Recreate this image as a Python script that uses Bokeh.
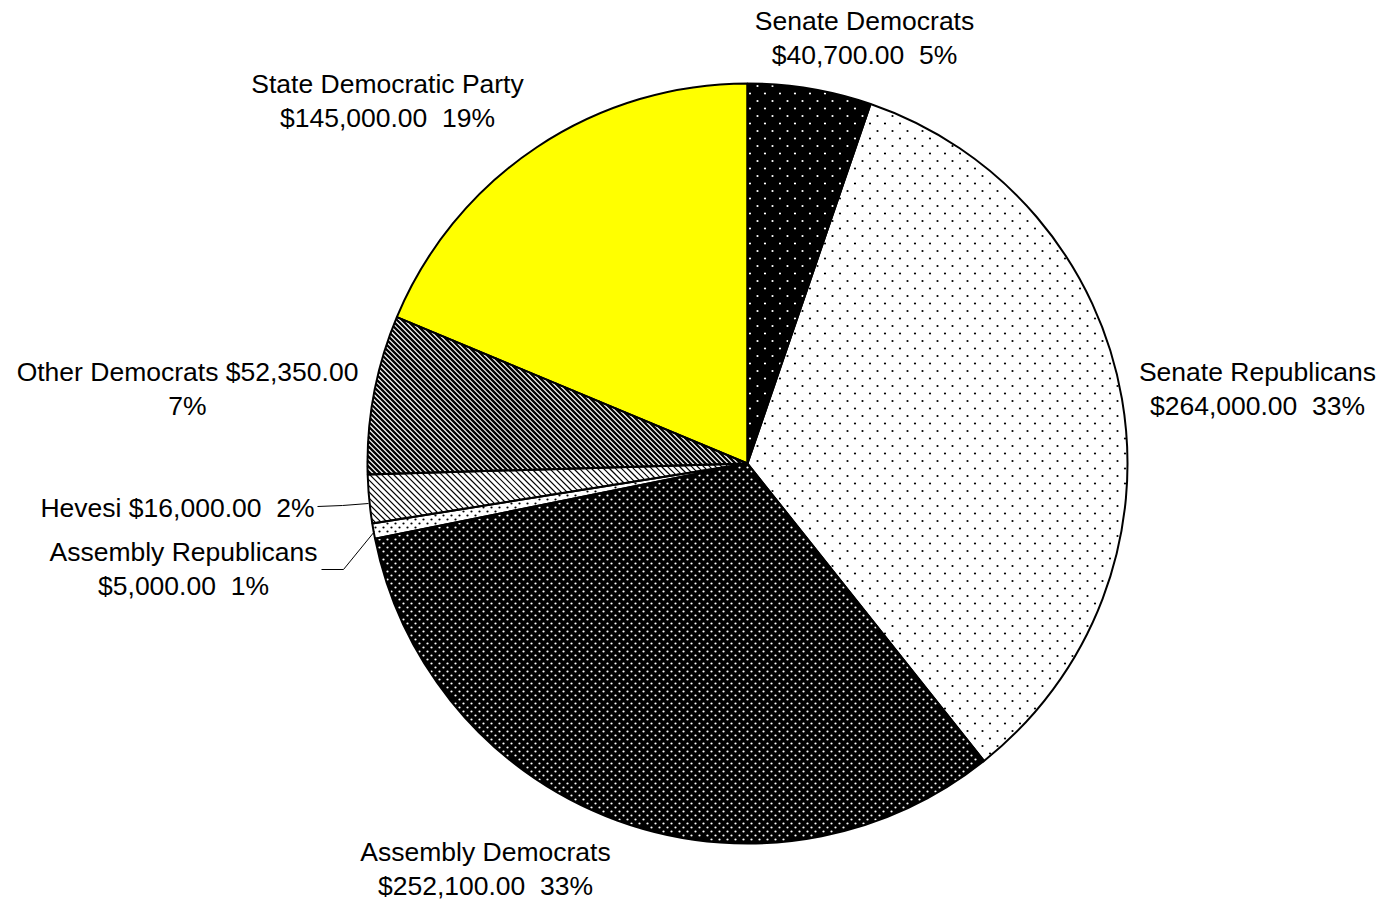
import math
from bokeh.plotting import figure
from bokeh.models import Range1d, ColumnDataSource
from bokeh.core.properties import value
from bokeh.embed import file_html
from bokeh.resources import INLINE

# ---- data ----
categories = ["Senate Democrats", "Senate Republicans", "Assembly Democrats",
              "Assembly Republicans", "Hevesi", "Other Democrats",
              "State Democratic Party"]
amounts = [40700.00, 264000.00, 252100.00, 5000.00, 16000.00, 52350.00, 145000.00]
pct_labels = ["5%", "33%", "33%", "1%", "2%", "7%", "19%"]

# ---- styles ----
fills = ["#000000", "#ffffff", "#000000", "#ffffff", "#ffffff", "#ffffff", "#ffff00"]
tex_kind = ["dots", "dots", "dots", "dots", "lines", "lines", None]
tex_color = ["#ffffff", "#000000", "#ffffff", "#000000", "#000000", "#000000", None]
tex_tile = [15, 15, 8, 8, 6, 5, None]
tex_size = [2.2, 2.2, 2.2, 2.2, 1.2, 2.3, None]

W, H = 1385, 903


def fy(py):
    return H - py


cx, cy, R = 747, fy(463), 380

total = sum(amounts)
starts, ends = [], []
cum = 0.0
for a in amounts:
    s = cum / total
    cum += a
    e = cum / total
    # clockwise from 12 o'clock
    starts.append(math.pi / 2 - 2 * math.pi * e)
    ends.append(math.pi / 2 - 2 * math.pi * s)

p = figure(width=W, height=H, output_backend="svg", toolbar_location=None,
           x_range=Range1d(0, W), y_range=Range1d(0, H), min_border=0)
p.axis.visible = False
p.grid.visible = False
p.outline_line_color = None
p.background_fill_color = "white"
p.border_fill_color = "white"

src = ColumnDataSource(dict(x=[cx] * len(amounts), y=[cy] * len(amounts),
                            start=starts, end=ends, fill=fills, name=categories))
p.wedge(x="x", y="y", radius=R, start_angle="start", end_angle="end",
        source=src, fill_color="fill", line_color=None)


def in_sector(x, y, s, e, margin):
    dx, dy = x - cx, y - cy
    r = math.hypot(dx, dy)
    if r > R - margin:
        return False
    a = math.atan2(dy, dx)
    span = e - s
    rel = (a - s) % (2 * math.pi)
    if rel > span:
        return False
    d1 = abs(math.sin(rel)) * r if rel < math.pi / 2 else r
    d2 = abs(math.sin(span - rel)) * r if (span - rel) < math.pi / 2 else r
    return d1 > margin and d2 > margin


# pattern textures, clipped to each slice
for i in range(len(amounts)):
    kind = tex_kind[i]
    if kind is None:
        continue
    s, e, t = starts[i], ends[i], tex_tile[i]
    if kind == "dots":
        xs, ys = [], []
        half = t / 2.0
        nrows = int(2 * R / half) + 4
        ncols = int(2 * R / t) + 4
        y0 = cy - R - half
        x0 = cx - R - t
        for j in range(nrows):
            yy = y0 + j * half
            off = half if j % 2 else 0.0
            for k in range(ncols):
                xx = x0 + off + k * t
                if in_sector(xx, yy, s, e, 1.6):
                    xs.append(xx)
                    ys.append(yy)
        p.scatter(x=xs, y=ys, marker="circle", size=tex_size[i],
                  fill_color=tex_color[i], line_color=None)
    else:
        us = (math.cos(s), math.sin(s))
        ue = (math.cos(e), math.sin(e))
        dvec = (1 / math.sqrt(2), -1 / math.sqrt(2))
        x0s, y0s, x1s, y1s = [], [], [], []
        base = cx + cy
        kmin = int(math.floor((base - R * 1.5) / t))
        kmax = int(math.ceil((base + R * 1.5) / t))
        for k in range(kmin, kmax + 1):
            C = k * t
            m = (C - base) / 2.0
            px0, py0 = cx + m, cy + m
            dist = abs(C - base) / math.sqrt(2)
            if dist >= R:
                continue
            hl = math.sqrt(R * R - dist * dist)
            tlo, thi = -hl, hl
            ok = True
            for f0, f1 in (
                (us[0] * (py0 - cy) - us[1] * (px0 - cx), us[0] * dvec[1] - us[1] * dvec[0]),
                ((px0 - cx) * ue[1] - (py0 - cy) * ue[0], dvec[0] * ue[1] - dvec[1] * ue[0]),
            ):
                if abs(f1) < 1e-12:
                    if f0 < 0:
                        ok = False
                    continue
                tc = -f0 / f1
                if f1 > 0:
                    tlo = max(tlo, tc)
                else:
                    thi = min(thi, tc)
            if not ok or thi <= tlo:
                continue
            x0s.append(px0 + tlo * dvec[0])
            y0s.append(py0 + tlo * dvec[1])
            x1s.append(px0 + thi * dvec[0])
            y1s.append(py0 + thi * dvec[1])
        p.segment(x0=x0s, y0=y0s, x1=x1s, y1=y1s, line_color=tex_color[i],
                  line_width=tex_size[i])

# slice outlines on top
p.wedge(x="x", y="y", radius=R, start_angle="start", end_angle="end",
        source=src, fill_color=None, line_color="black", line_width=2)


def money(v):
    return "${:,.2f}".format(v)


SP2 = "\u00a0\u00a0"
label_lines = [
    [categories[0], money(amounts[0]) + SP2 + pct_labels[0]],
    [categories[1], money(amounts[1]) + SP2 + pct_labels[1]],
    [categories[2], money(amounts[2]) + SP2 + pct_labels[2]],
    [categories[3], money(amounts[3]) + SP2 + pct_labels[3]],
    [categories[4] + " " + money(amounts[4]) + SP2 + pct_labels[4]],
    [categories[5] + " " + money(amounts[5]), pct_labels[5]],
    [categories[6], money(amounts[6]) + SP2 + pct_labels[6]],
]
# layout: label anchors in page pixels
label_pos = [(864, 20), (1257, 371), (485, 851), (183, 551), (314, 507), (187, 371), (387, 83)]
label_align = ["center", "center", "center", "center", "right", "center", "center"]
LINE = 34

tx, ty, tt, ta = [], [], [], []
for lines, (lx, ly), al in zip(label_lines, label_pos, label_align):
    for k, ln in enumerate(lines):
        tx.append(lx)
        ty.append(fy(ly + k * LINE))
        tt.append(ln)
        ta.append(al)

p.text(x=tx, y=ty, text=tt, text_align=ta, text_baseline="middle",
       text_font=value("Liberation Sans"), text_font_size="26.5px", text_color="black")

# leader lines
p.line(x=[317, 342, 368], y=[fy(506), fy(505), fy(503)], line_color="black", line_width=1)
p.line(x=[321, 343, 374], y=[fy(569), fy(569), fy(531)], line_color="black", line_width=1)

open("out.html", "w").write(file_html(p, INLINE))
